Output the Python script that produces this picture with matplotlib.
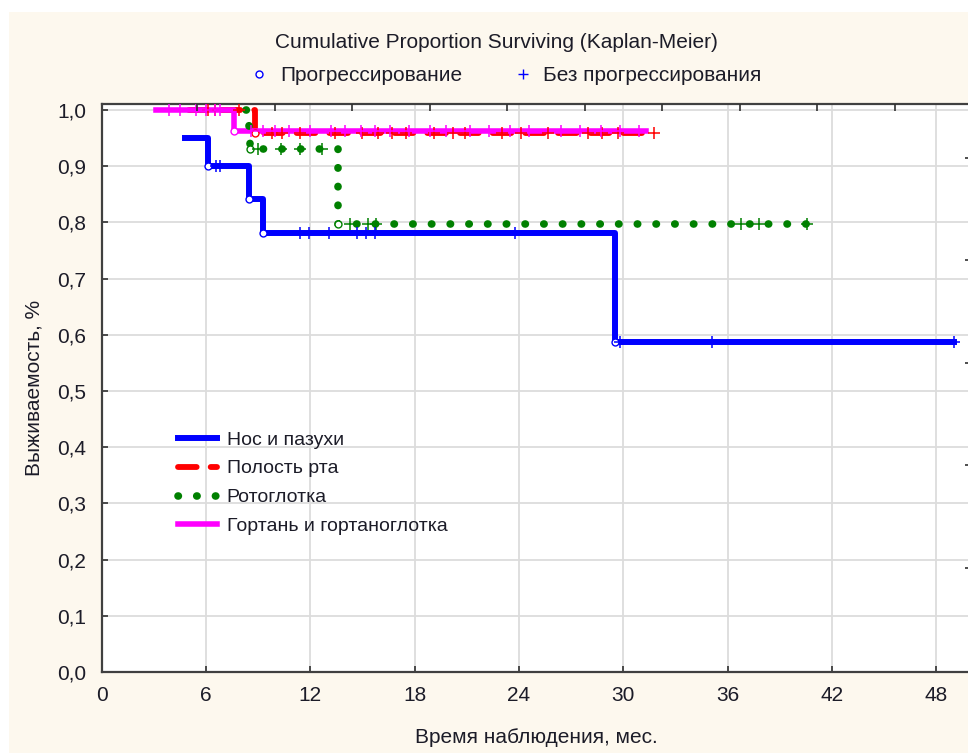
import numpy as np
import matplotlib.pyplot as plt
from matplotlib.lines import Line2D
from matplotlib.patches import Rectangle

plt.rcParams['font.family'] = ['Liberation Sans', 'DejaVu Sans']

# --- данные ---
# Нос и пазухи
t_nos = [4.8, 6.1, 8.5, 9.3, 29.5, 49.0]
s_nos = [0.950, 0.900, 0.842, 0.781, 0.587, 0.587]
ev_nos = [6.1, 8.5, 9.3, 29.5]
cx_nos = [6.6, 6.8, 11.4, 11.9, 13.1, 14.7, 15.2, 15.7, 23.8, 29.8, 35.1, 49.0]

# Полость рта
t_rot = [5.0, 8.8, 31.8]
s_rot = [1.0, 0.960, 0.960]
ev_rot = [8.8]
cx_rot = [6.1, 6.5, 7.9, 9.8, 10.4, 11.4, 13.4, 15.0, 15.9, 16.7, 17.5, 19.1,
          20.2, 20.9, 23.0, 24.1, 25.7, 28.0, 28.8, 29.7, 31.8]

# Ротоглотка
t_oro = [8.3, 8.45, 8.55, 13.6, 40.8]
s_oro = [1.0, 0.966, 0.931, 0.797, 0.797]
ev_oro = [8.55, 13.6]
cx_oro = [9.0, 10.3, 11.4, 12.7, 14.3, 15.3, 15.8, 36.8, 37.8, 40.6]

# Гортань и гортаноглотка
t_lar = [3.1, 7.6, 31.3]
s_lar = [1.0, 0.963, 0.963]
ev_lar = [7.6]
cx_lar = [3.9, 4.5, 5.4, 6.0, 6.5, 6.8, 8.6, 9.3, 10.0, 10.8, 12.0, 13.2, 14.0,
          14.9, 15.7, 16.6, 17.7, 18.9, 19.8, 21.2, 22.3, 23.5, 24.6, 26.4,
          27.5, 28.7, 29.8, 30.9]

labels = ["Нос и пазухи", "Полость рта", "Ротоглотка", "Гортань и гортаноглотка"]
colors = ["#0000ff", "#ff0000", "#008000", "#ff00ff"]

x_ticks = np.arange(0, 49, 6)
y_ticks = np.arange(0, 1.01, 0.1)
top_ticks = [5.49, 9.95, 14.41, 18.87, 23.33, 27.79, 32.25, 36.71, 41.17, 45.63]
right_ticks = [0.185, 0.368, 0.550, 0.733, 0.915]

cream = "#fdf8ee"
txt = "#1c1c28"
green_ls = (0, (0.05, 2.4))
red_ls = (0, (3.2, 2.4))

fig = plt.figure(figsize=(9.68, 7.53), dpi=100, facecolor="white")
fig.patches.append(Rectangle((9/968, 0), 1, 1 - 12/753, transform=fig.transFigure,
                             facecolor=cream, edgecolor="none", zorder=-10))

ax = fig.add_axes([0.105, 0.1076, 0.898, 0.7544])
ax.set_facecolor("white")
ax.set_xlim(0, 50)
ax.set_ylim(0, 1.011)


def kaplan(t, s, ev, cx, color, ls, lw, z):
    ax.step(t, s, where="post", color=color, lw=lw, linestyle=ls,
            dash_capstyle="round" if ls != "-" else "butt", zorder=z)
    # значение после шага
    sv = [s[t.index(e)] for e in ev]
    ax.plot(ev, sv, "o", ms=5, mfc="white", mec=color, mew=1.0, zorder=z + 0.5)
    cy = [s[max(i for i in range(len(t)) if t[i] <= c)] for c in cx]
    ax.plot(cx, cy, "+", ms=8, color=color, mew=1.1, zorder=z + 0.5)


kaplan(t_nos, s_nos, ev_nos, cx_nos, colors[0], "-", 4.3, 4)
kaplan(t_rot, s_rot, ev_rot, cx_rot, colors[1], red_ls, 4.2, 3)
kaplan(t_lar, s_lar, ev_lar, cx_lar, colors[3], "-", 4.0, 3.2)
kaplan(t_oro, s_oro, ev_oro, cx_oro, colors[2], green_ls, 5.5, 3.4)

ax.set_xticks(x_ticks)
ax.set_yticks(y_ticks)
ax.set_yticklabels([f"{v:.1f}".replace(".", ",") for v in y_ticks])
ax.grid(True, color="#dcdcdc", lw=1.3, zorder=0)
ax.tick_params(direction="in", length=4, width=1.2, color="#303030",
               labelsize=15, labelcolor=txt)
ax.tick_params(axis="y", pad=11)
ax.tick_params(axis="x", pad=10)
for sp in ax.spines.values():
    sp.set_color("#404040")
    sp.set_linewidth(1.6)

# вспомогательные засечки сверху и справа
axt = ax.twiny()
axt.set_xlim(ax.get_xlim())
axt.set_xticks(top_ticks)
axt.tick_params(direction="in", length=5, width=1.2, color="#303030", labeltop=False)
axr = ax.twinx()
axr.set_ylim(ax.get_ylim())
axr.set_yticks(right_ticks)
axr.tick_params(direction="in", length=4, width=1.2, color="#303030", labelright=False)
for a in (axt, axr):
    for sp in a.spines.values():
        sp.set_visible(False)

ax.set_xlabel("Время наблюдения, мес.", fontsize=15, color=txt, labelpad=17)
ax.set_ylabel("Выживаемость, %", fontsize=15, color=txt, labelpad=10)

handles = [
    Line2D([], [], color=colors[0], lw=4.3),
    Line2D([], [], color=colors[1], lw=4.2, linestyle=red_ls, dash_capstyle="round"),
    Line2D([], [], color=colors[2], lw=5.5, linestyle=green_ls, dash_capstyle="round"),
    Line2D([], [], color=colors[3], lw=4.0),
]
leg = ax.legend(handles, labels, loc="upper left", bbox_to_anchor=(4.4, 0.429),
                bbox_transform=ax.transData, frameon=False, fontsize=14,
                handlelength=2.0, handletextpad=0.5, labelspacing=0.58,
                borderpad=0, borderaxespad=0)
for t in leg.get_texts():
    t.set_color(txt)

fig.text(0.513, 0.944, "Cumulative Proportion Surviving (Kaplan-Meier)",
         ha="center", va="center", fontsize=15, color=txt)
top_handles = [
    Line2D([], [], ls="none", marker="o", ms=5, mfc="white", mec=colors[0], mew=1.0),
    Line2D([], [], ls="none", marker="+", ms=7, color=colors[0], mew=1.0),
]
fig.legend(top_handles, ["Прогрессирование", "Без прогрессирования"], ncol=2,
           loc="center", bbox_to_anchor=(0.522, 0.9), frameon=False,
           fontsize=15, handlelength=1.0, handletextpad=0.5, columnspacing=2.4,
           labelcolor=txt)

fig.savefig("out.png", dpi=100, facecolor=fig.get_facecolor())
